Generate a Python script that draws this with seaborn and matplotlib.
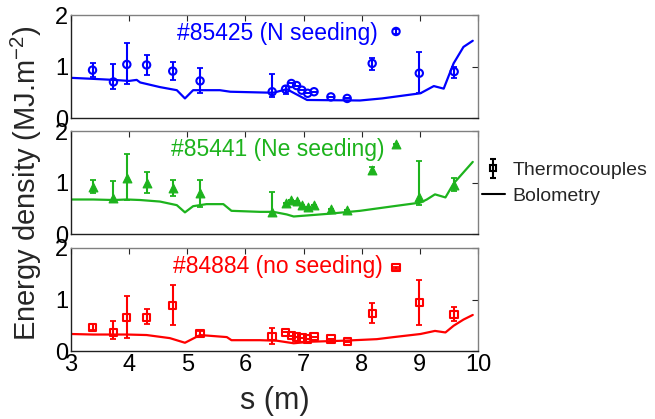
import numpy as np
import pandas as pd
import matplotlib
matplotlib.use("Agg")
import matplotlib.pyplot as plt
import seaborn as sns
from matplotlib.lines import Line2D

sns.set_theme(style="white")
plt.rcParams['font.family'] = ['Liberation Sans', 'DejaVu Sans']
plt.rcParams['mathtext.default'] = 'regular'

# ---------------- data ----------------
s_tc = [3.37, 3.73, 3.96, 4.30, 4.75, 5.22, 6.46, 6.69, 6.79, 6.88, 6.97, 7.07, 7.18, 7.47, 7.75, 8.18, 8.59, 8.99, 9.59]

n_val = [0.93, 0.70, 1.04, 1.03, 0.91, 0.72, 0.51, 0.56, 0.67, 0.63, 0.54, 0.48, 0.51, 0.41, 0.38, 1.06, 1.68, 0.87, 0.90]
n_hi  = [1.07, 1.04, 1.46, 1.22, 1.08, 0.98, 0.85, 0.63, 0.67, 0.63, 0.54, 0.48, 0.51, 0.41, 0.38, 1.16, 1.72, 1.29, 1.00]
n_lo  = [0.80, 0.56, 0.66, 0.83, 0.74, 0.48, 0.40, 0.47, 0.67, 0.63, 0.54, 0.48, 0.51, 0.41, 0.38, 0.93, 1.64, 0.48, 0.77]

ne_val = [0.92, 0.69, 1.08, 1.00, 0.89, 0.79, 0.43, 0.60, 0.66, 0.65, 0.56, 0.52, 0.56, 0.49, 0.47, 1.24, 1.75, 0.72, 0.96]
ne_hi  = [1.05, 1.03, 1.55, 1.21, 1.05, 1.04, 0.82, 0.60, 0.66, 0.65, 0.56, 0.52, 0.56, 0.49, 0.47, 1.30, 1.75, 1.42, 1.08]
ne_lo  = [0.79, 0.63, 0.66, 0.79, 0.74, 0.53, 0.34, 0.60, 0.66, 0.65, 0.56, 0.52, 0.56, 0.49, 0.47, 1.17, 1.75, 0.56, 0.84]

no_val = [0.46, 0.36, 0.65, 0.65, 0.88, 0.34, 0.28, 0.36, 0.30, 0.27, 0.25, 0.23, 0.28, 0.23, 0.18, 0.73, 1.62, 0.94, 0.71]
no_hi  = [0.53, 0.59, 1.06, 0.81, 1.28, 0.38, 0.44, 0.36, 0.30, 0.27, 0.25, 0.23, 0.28, 0.23, 0.18, 0.93, 1.64, 1.38, 0.85]
no_lo  = [0.40, 0.23, 0.25, 0.52, 0.50, 0.30, 0.13, 0.36, 0.30, 0.27, 0.25, 0.23, 0.28, 0.23, 0.18, 0.54, 1.60, 0.50, 0.59]

s_bolo_n = [3.0, 3.38, 3.73, 4.00, 4.13, 4.19, 4.53, 4.82, 4.96, 5.10, 5.56, 5.74, 6.48, 6.71, 7.06, 7.97, 8.35, 9.01, 9.24, 9.41, 9.58, 9.75, 9.91]
bolo_n   = [0.78, 0.76, 0.74, 0.72, 0.74, 0.69, 0.60, 0.54, 0.38, 0.54, 0.54, 0.51, 0.49, 0.56, 0.35, 0.34, 0.38, 0.48, 0.62, 0.57, 1.06, 1.38, 1.50]

s_bolo_ne = [3.0, 3.38, 3.73, 3.96, 4.19, 4.53, 4.82, 4.96, 5.10, 5.33, 5.62, 5.76, 6.25, 6.48, 6.71, 6.83, 7.06, 7.40, 7.97, 8.55, 9.01, 9.12, 9.26, 9.44, 9.58, 9.91]
bolo_ne   = [0.67, 0.67, 0.66, 0.67, 0.66, 0.63, 0.56, 0.42, 0.54, 0.58, 0.58, 0.45, 0.43, 0.43, 0.38, 0.34, 0.36, 0.39, 0.45, 0.54, 0.61, 0.67, 0.77, 0.71, 0.98, 1.40]

s_bolo_no = [3.0, 3.38, 3.96, 4.30, 4.70, 4.96, 5.22, 5.68, 5.76, 6.25, 6.54, 6.83, 7.11, 7.69, 8.26, 8.55, 9.01, 9.26, 9.44, 9.58, 9.75, 9.91]
bolo_no   = [0.33, 0.32, 0.32, 0.31, 0.25, 0.16, 0.31, 0.27, 0.21, 0.21, 0.20, 0.15, 0.18, 0.20, 0.23, 0.27, 0.33, 0.39, 0.36, 0.49, 0.61, 0.70]

labels = ["#85425 (N seeding)", "#85441 (Ne seeding)", "#84884 (no seeding)"]
colors = ["#0000FF", "#1DB31D", "#FF0000"]
markers = ["o", "^", "s"]
x_ticks = [3, 4, 5, 6, 7, 8, 9, 10]
y_ticks = [0, 1, 2]

panels = [
    (n_val, n_lo, n_hi, s_bolo_n, bolo_n),
    (ne_val, ne_lo, ne_hi, s_bolo_ne, bolo_ne),
    (no_val, no_lo, no_hi, s_bolo_no, bolo_no),
]

# ---------------- figure ----------------
W, H = 655, 419
fig = plt.figure(figsize=(W / 100, H / 100), dpi=100)
left, right = 71 / W, 478 / W
tops = [15, 131, 248]
h_px = 103

axes = []
for i, (val, lo, hi, sb, bb) in enumerate(panels):
    ax = fig.add_axes([left, 1 - (tops[i] + h_px) / H, right - left, h_px / H])
    axes.append(ax)
    c = colors[i]
    df_b = pd.DataFrame({"s": sb, "E": bb})
    sns.lineplot(data=df_b, x="s", y="E", ax=ax, color=c, lw=1.6, estimator=None, sort=True)
    v = np.array(val); l = np.array(lo); h = np.array(hi)
    ax.errorbar(s_tc, v, yerr=[v - l, h - v], fmt="none", ecolor=c, elinewidth=1.5, capsize=2.5, capthick=1.3)
    df_t = pd.DataFrame({"s": s_tc, "E": val})
    if markers[i] == "^":
        sns.scatterplot(data=df_t, x="s", y="E", ax=ax, marker="^", color=c, s=40, edgecolor=c, linewidth=0.8)
    else:
        sns.scatterplot(data=df_t, x="s", y="E", ax=ax, marker=markers[i], facecolor="none",
                        edgecolor=c, s=28, linewidth=1.5)
    ax.text(6.55, 1.65, labels[i], color=c, fontsize=16.5, ha="center", va="center")
    ax.set_xlim(3, 10)
    ax.set_ylim(0, 2)
    ax.set_xticks(x_ticks)
    ax.set_yticks(y_ticks)
    ax.set_xlabel("")
    ax.set_ylabel("")
    ax.tick_params(direction="in", length=4, width=0.8, top=True, right=True,
                   labelsize=17, colors="#262626", pad=2)
    ax.tick_params(axis="y", labelcolor="black")
    ax.tick_params(axis="x", labelcolor="black")
    for sp in ["left", "bottom"]:
        ax.spines[sp].set_color("#202020")
        ax.spines[sp].set_linewidth(1.0)
    for sp in ["top", "right"]:
        ax.spines[sp].set_color("#808080")
        ax.spines[sp].set_linewidth(1.0)
    if i < 2:
        ax.set_xticklabels([])

axes[2].set_xlabel("s (m)", fontsize=22, labelpad=7)
fig.text(26 / W, 1 - 183 / H, "Energy density (MJ.m$^{-2}$)", rotation=90,
         fontsize=21, ha="center", va="center")

# legend
h_tc = axes[0].errorbar([np.nan], [np.nan], yerr=[[0.1], [0.1]], fmt="s", color="black",
                        mfc="none", ms=5, elinewidth=1.5, capsize=2.5, mew=1.5)
h_bo = Line2D([], [], color="black", lw=1.5)
fig.legend([h_tc, h_bo], ["Thermocouples", "Bolometry"], loc="center left",
           bbox_to_anchor=(472 / W, 1 - 183 / H), frameon=False, fontsize=14,
           handlelength=1.2, handletextpad=0.4, labelspacing=0.4, borderpad=0)

fig.savefig("out.png", dpi=100)
